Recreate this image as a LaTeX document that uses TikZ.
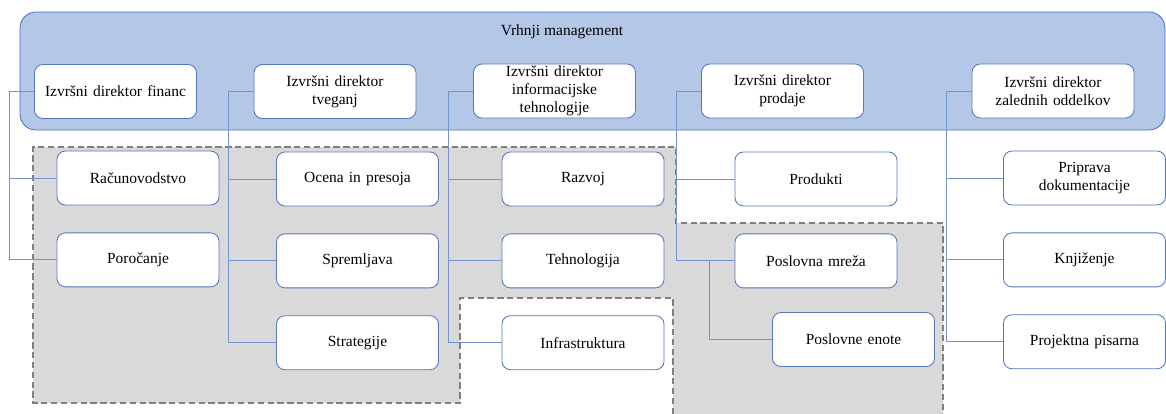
\documentclass[tikz,border=0pt]{standalone}
\usepackage{fontspec}
\setmainfont{Liberation Serif}
\usetikzlibrary{positioning}

\definecolor{mgmtfill}{HTML}{B4C7E7}
\definecolor{mgmtline}{HTML}{4472C4}
\definecolor{boxline}{HTML}{5377BA}
\definecolor{linkblue}{HTML}{7393D3}
\definecolor{zonegray}{HTML}{D9D9D9}
\definecolor{zoneline}{HTML}{7F7F7F}

\begin{document}
\begin{tikzpicture}[
    x=0.025cm, y=-0.025cm,
    node distance=0.675cm and 0.6cm,
    every node/.style={font=\rmfamily\fontsize{11}{13}\selectfont},
    unit/.style={draw=boxline, rounded corners=6pt, fill=white, minimum width=4.05cm, minimum height=1.35cm, text width=3.8cm, align=center, inner sep=1pt, line width=0.6pt},
    mgmt/.style={draw=mgmtline, fill=mgmtfill, rounded corners=0.4cm, line width=0.6pt},
    zone/.style={draw=zoneline, line width=1.8pt, dash pattern=on 4.5pt off 2.5pt},
    link/.style={draw=linkblue, line width=0.6pt}
]
\useasboundingbox (0,0) rectangle (1166,414);

% grey zones
\fill[zonegray] (33,147) -- (676,147) -- (676,223) -- (943,223) -- (943,414) -- (673,414) -- (673,298) -- (460,298) -- (460,403) -- (33,403) -- cycle;
\draw[zone] (673,414) -- (673,298) -- (460,298) -- (460,403) -- (33,403) -- (33,147) -- (676,147) -- (676,223) -- (943,223) -- (943,414);

% top management
\draw[mgmt] (20,12) rectangle (1165,130);
\node (vrh) at (562,32) {Vrhnji management};

\node[unit] (fin) at (115.5,91.5) {Izvršni direktor financ};
\node[unit] (tveg) at (335,91.5) {Izvršni direktor\\tveganj};
\node[unit] (it) at (554.5,91) {Izvršni direktor\\informacijske\\tehnologije};
\node[unit] (prod) at (782.5,91) {Izvršni direktor\\prodaje};
\node[unit] (zal) at (1053,91) {Izvršni direktor\\zalednih oddelkov};

% departments
\node[unit] (racun) at (138,178) {Računovodstvo};
\node[unit, below=of racun] (poroc) {Poročanje};

\node[unit] (ocena) at (357.5,179) {Ocena in presoja};
\node[unit, below=of ocena] (spreml) {Spremljava};
\node[unit, below=of spreml] (strat) {Strategije};

\node[unit] (razvoj) at (583,179) {Razvoj};
\node[unit, below=of razvoj] (tehno) {Tehnologija};
\node[unit, below=of tehno] (infra) {Infrastruktura};

\node[unit] (produkti) at (816,179) {Produkti};
\node[unit, below=of produkti] (mreza) {Poslovna mreža};
\node[unit] (enote) at (853.5,339.5) {Poslovne enote};

\node[unit] (priprava) at (1084.5,178) {Priprava\\dokumentacije};
\node[unit, below=of priprava] (knjiz) {Knjiženje};
\node[unit, below=of knjiz] (pisarna) {Projektna pisarna};

% connectors
\foreach \d/\u in {fin/racun, fin/poroc, tveg/ocena, tveg/spreml, tveg/strat,
    it/razvoj, it/tehno, it/infra, prod/produkti, prod/mreza,
    zal/priprava, zal/knjiz, zal/pisarna}
  \draw[link] (\d.west) -- ++(-25,0) |- (\u.west);
\draw[link] (mreza.west) ++(-25,0) |- (enote.west);
\end{tikzpicture}
\end{document}
